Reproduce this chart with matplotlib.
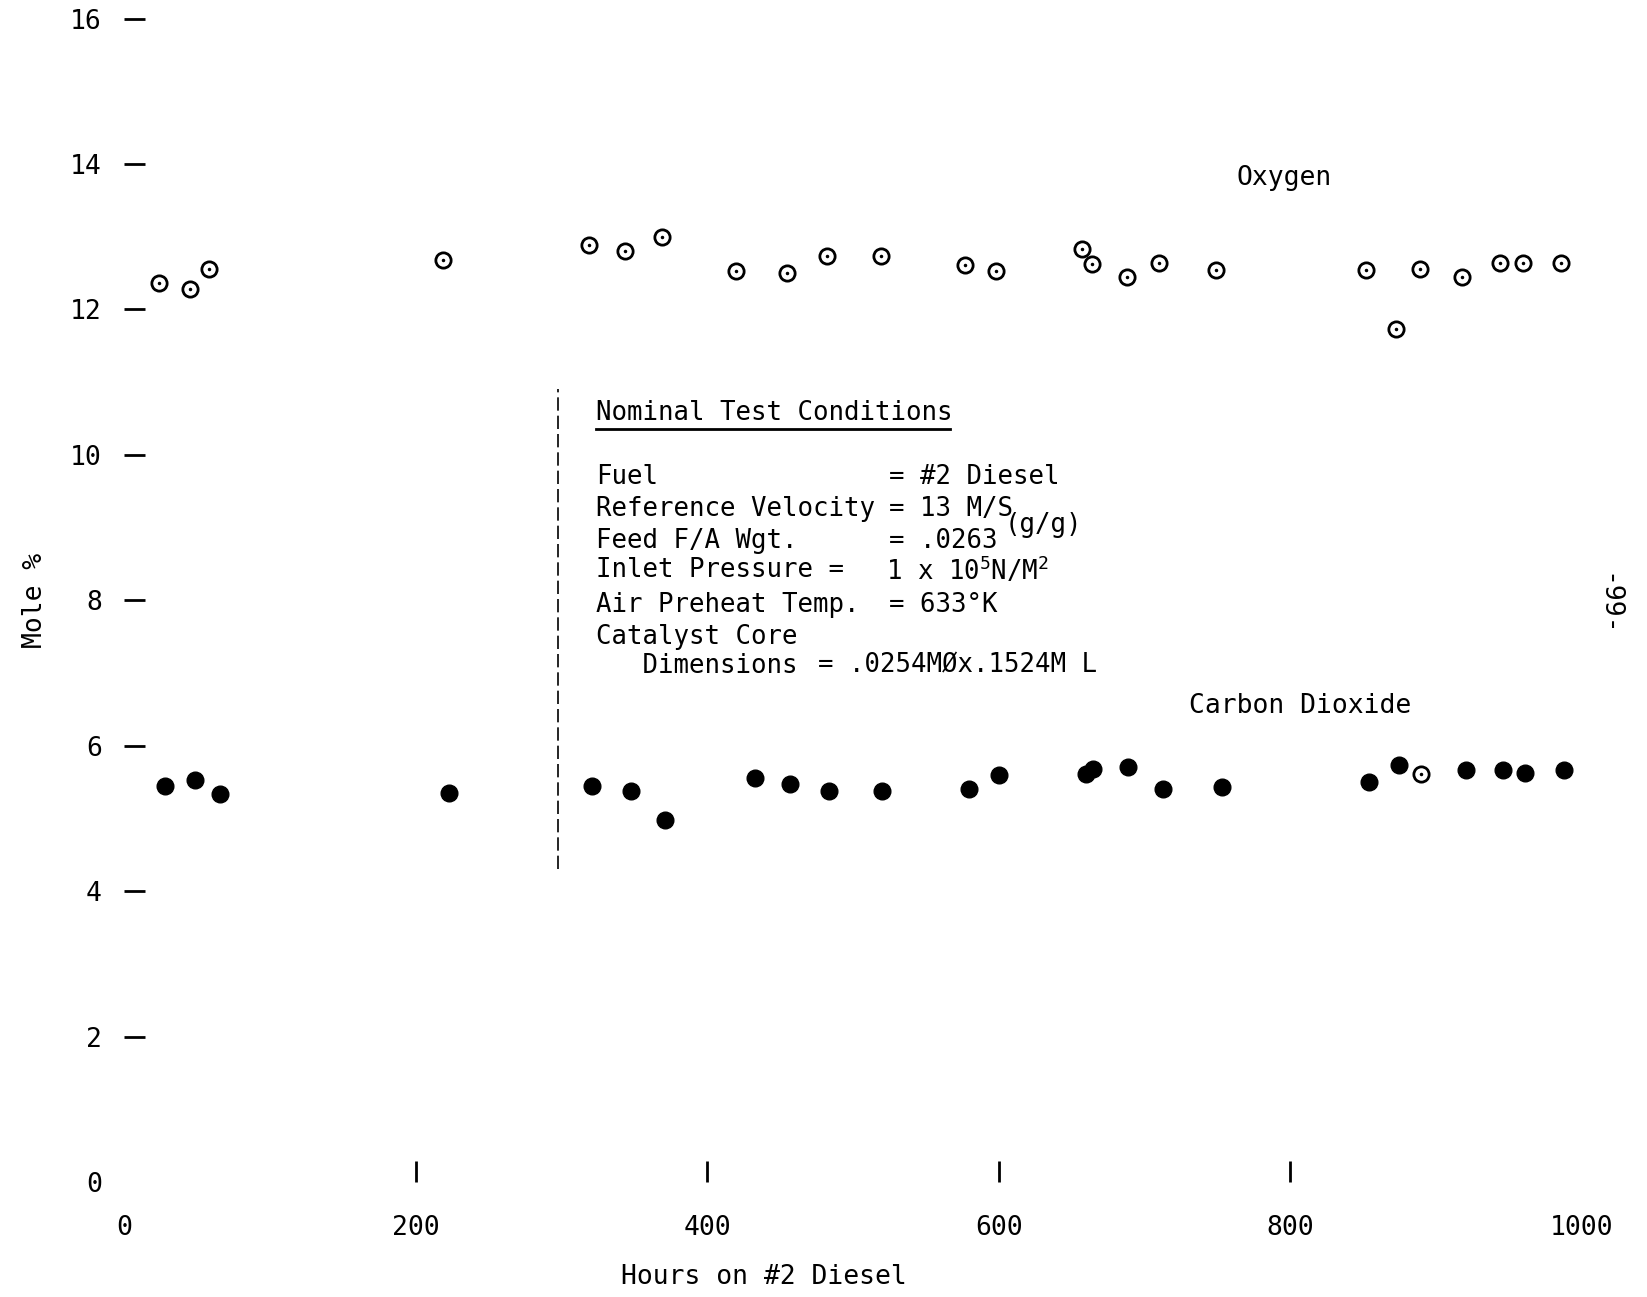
import matplotlib.pyplot as plt

plt.rcParams['font.family'] = ['DejaVu Sans Mono']
plt.rcParams['mathtext.fontset'] = 'custom'
plt.rcParams['mathtext.rm'] = 'DejaVu Sans Mono'
plt.rcParams['mathtext.default'] = 'rm'

# Oxygen (open circles with centre dot)
o2_hours = [24, 45, 58, 219, 319, 344, 369, 420, 455, 482, 519, 577, 598,
            657, 664, 688, 710, 749, 852, 873, 889, 918, 944, 960, 986]
o2_mole = [12.36, 12.28, 12.55, 12.68, 12.89, 12.80, 13.00, 12.53, 12.50, 12.73,
           12.73, 12.61, 12.53, 12.83, 12.63, 12.44, 12.64, 12.54, 12.54, 11.73,
           12.55, 12.45, 12.64, 12.64, 12.64]

# Carbon dioxide (filled dots)
co2_hours = [28, 49, 66, 223, 321, 348, 371, 433, 457, 484, 520, 580, 600,
             660, 665, 689, 713, 753, 854, 875, 921, 946, 961, 988]
co2_mole = [5.44, 5.53, 5.34, 5.35, 5.45, 5.38, 4.98, 5.56, 5.47, 5.38, 5.38,
            5.41, 5.60, 5.61, 5.68, 5.70, 5.41, 5.43, 5.50, 5.74, 5.66, 5.66,
            5.63, 5.66]
# one CO2 point drawn as an open circle in the original
co2_open_hours = [890]
co2_open_mole = [5.61]

xticks = [0, 200, 400, 600, 800, 1000]
yticks = [0, 2, 4, 6, 8, 10, 12, 14, 16]

conditions = [
    ('Fuel', '= #2 Diesel'),
    ('Reference Velocity', '= 13 M/S'),
    ('Feed F/A Wgt.', '= .0263'),
    ('Inlet Pressure =', '1 x 10$^{5}$N/M$^{2}$'),
    ('Air Preheat Temp.', '= 633\u00b0K'),
    ('Catalyst Core', ''),
    ('   Dimensions', '= .0254M\u00d8x.1524M L'),
]
value_x = [525, 525, 525, 523, 525, 525, 476]

fig = plt.figure(figsize=(16.47, 12.97), dpi=100)
ax = fig.add_axes([0.0753, 0.0887, 0.885, 0.897])

ax.plot(o2_hours, o2_mole, linestyle='none', marker='o', markersize=11,
        markerfacecolor='none', markeredgecolor='black', markeredgewidth=2)
ax.plot(o2_hours, o2_mole, linestyle='none', marker='.', markersize=3, color='black')

ax.plot(co2_hours, co2_mole, linestyle='none', marker='o', markersize=12, color='black')
ax.plot(co2_open_hours, co2_open_mole, linestyle='none', marker='o', markersize=11,
        markerfacecolor='none', markeredgecolor='black', markeredgewidth=2)
ax.plot(co2_open_hours, co2_open_mole, linestyle='none', marker='.', markersize=3, color='black')

ax.set_xlim(0, 1000)
ax.set_ylim(0, 16)
for s in ax.spines.values():
    s.set_visible(False)

ax.set_xticks(xticks)
ax.set_yticks(yticks)
ax.tick_params(axis='y', direction='in', length=15, width=2, pad=16, labelsize=19)
ax.tick_params(axis='x', direction='in', length=15, width=2, pad=24, labelsize=19)
ax.yaxis.get_major_ticks()[0].tick1line.set_visible(False)
ax.xaxis.get_major_ticks()[0].tick1line.set_visible(False)
ax.xaxis.get_major_ticks()[-1].tick1line.set_visible(False)

ax.set_ylabel('Mole %', fontsize=19, labelpad=16)
fig.text(0.464, 0.0155, 'Hours on #2 Diesel', fontsize=19, ha='center', va='center')

ax.text(796, 13.81, 'Oxygen', fontsize=19, ha='center', va='center')
ax.text(807, 6.54, 'Carbon Dioxide', fontsize=19, ha='center', va='center')

# test conditions block
ax.text(324, 10.58, 'Nominal Test Conditions', fontsize=18.5, va='center')
ax.plot([324, 567], [10.35, 10.35], color='black', lw=2)
row_y = [9.70, 9.25, 8.82, 8.41, 7.94, 7.50, 7.10]
for (name, val), xx, yy in zip(conditions, value_x, row_y):
    ax.text(324, yy, name, fontsize=18.5, va='center')
    ax.text(xx, yy, val, fontsize=18.5, va='center')
ax.text(604, 9.04, '(g/g)', fontsize=18.5, va='center')

ax.plot([298, 298], [4.3, 10.9], color='black', lw=1.2, linestyle=(0, (8, 3)))

fig.text(0.976, 0.534, '-99-', fontsize=19, rotation=-90, ha='center', va='center')

fig.savefig('out.png', dpi=100)
